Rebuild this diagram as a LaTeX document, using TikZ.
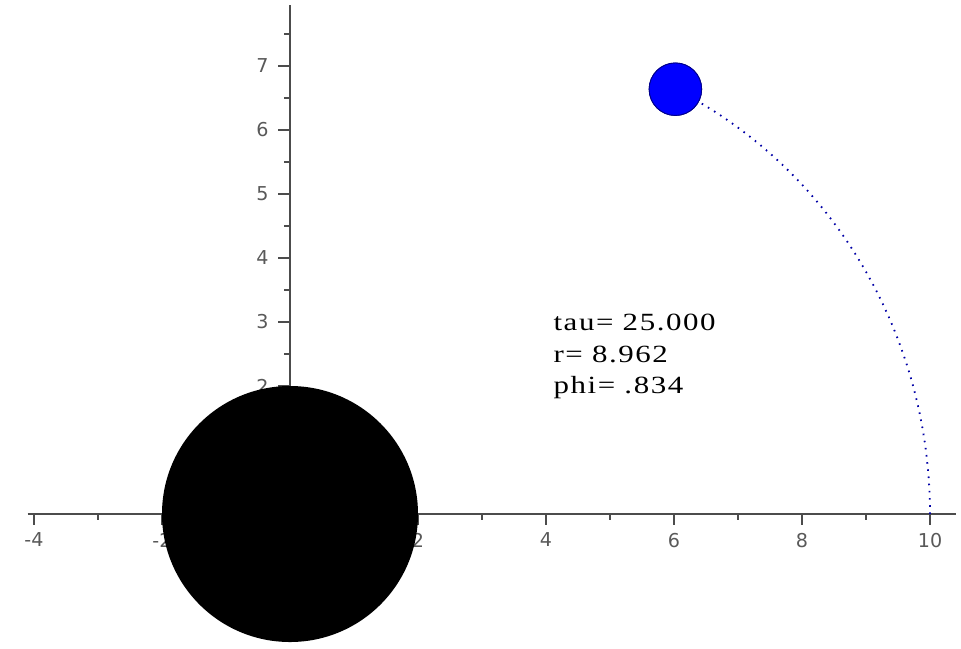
\documentclass[tikz,border=0pt]{standalone}
\usepackage{fontspec}
\setmainfont{Liberation Serif}
\newfontfamily\tickfont{DejaVu Sans}
\newfontfamily\readfont[LetterSpace=5]{Liberation Serif}
\usepackage{tikz}
\usetikzlibrary{shapes,arrows}

\tikzset{
  axisline/.style={draw=black!70, line width=0.8pt},
  majortick/.style={draw=black!70, line width=0.7pt},
  minortick/.style={draw=black!70, line width=0.6pt},
  ticklabel/.style={font=\tickfont\fontsize{8.5}{10}\selectfont, text=black!65, inner sep=0pt},
  orbit/.style={draw=blue!65!black, line width=0.8pt, dash pattern=on 0.7pt off 2.5pt},
  hole/.style={circle, fill=black, inner sep=0pt},
  probe/.style={circle, fill=blue, draw=blue!55!black, line width=0.4pt, inner sep=0pt},
  readout/.style={align=left, inner sep=0pt, xscale=1.25,
    font=\readfont\fontsize{11}{13.8}\selectfont},
}

\begin{document}
\begin{tikzpicture}
  % Sizes
  \pgfmathsetmacro{\holerad}{2}
  \pgfmathsetmacro{\proberad}{0.41}
  \pgfmathsetmacro{\rend}{8.962}
  \pgfmathsetmacro{\phiend}{0.834}
  \useasboundingbox (-4.531,-2.094) rectangle (10.484,8.031);

  % axes
  \draw[axisline] (-4.1,0) -- (10.4,0);
  \draw[axisline] (0,-2) -- (0,7.95);

  % ticks on x
  \foreach \x [count=\i] in {-4,-2,2,4,6,8,10} {
    \draw[majortick] (\x,0) -- (\x,-0.17);
    \node[ticklabel, anchor=north] (xlab\i) at (\x,-0.29) {\x};
  }
  \foreach \x in {-3,-1,1,3,5,7,9}
    \draw[minortick] (\x,0) -- (\x,-0.1);

  % ticks on y
  \foreach \y in {1,...,7} {
    \draw[majortick] (0,\y) -- (-0.18,\y);
    \node[ticklabel, anchor=east] (ylab\y) at (-0.33,\y) {\y};
  }
  \foreach \y in {0.5,1.5,...,7.5}
    \draw[minortick] (0,\y) -- (-0.1,\y);

  % black hole
  \node[hole, minimum size=2*\holerad cm] (hole) at (0,0) {};

  % trajectory and probe
  \node[probe, minimum size=2*\proberad cm] (ball)
    at ({\rend*cos(\phiend r)},{\rend*sin(\phiend r)}) {};
  \draw[orbit] plot[domain=0:\phiend, samples=80, variable=\t]
    ({(10-(10-\rend)*(\t/\phiend)^2)*cos(\t r)},
     {(10-(10-\rend)*(\t/\phiend)^2)*sin(\t r)});
  \node[probe, minimum size=2*\proberad cm] at (ball) {};

  % values
  \node[readout, anchor=base west] (values) at (4.11,1.89)
    {tau= 25.000\\r= 8.962\\phi= .834};
\end{tikzpicture}
\end{document}
